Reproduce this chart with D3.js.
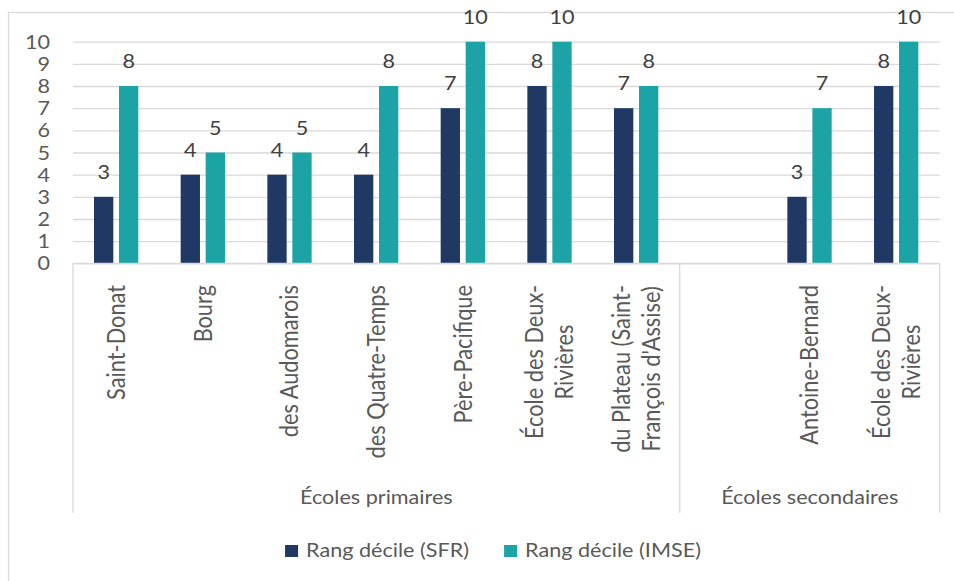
<!DOCTYPE html>
<html>
<head>
<meta charset="utf-8">
<script src="https://cdn.jsdelivr.net/npm/d3@7"></script>
<style>
  html, body { margin: 0; padding: 0; background: #fff; }
  svg { display: block; font-family: Lato, sans-serif; }
</style>
</head>
<body>
<svg id="chart" width="954" height="581"></svg>
<script>
// ---- data ----
const categories = [
  "Saint-Donat",
  "Bourg",
  "des Audomarois",
  "des Quatre-Temps",
  "Père-Pacifique",
  "École des Deux-Rivières",
  "du Plateau (Saint-François d'Assise)",
  "",
  "Antoine-Bernard",
  "École des Deux-Rivières"
];
const groupNames = ["Écoles primaires", "Écoles secondaires"];
const groupSizes = [7, 3];
const seriesNames = ["Rang décile (SFR)", "Rang décile (IMSE)"];
const sfrValues  = [3, 4, 4, 4, 7, 8, 7, null, 3, 8];
const imseValues = [8, 5, 5, 8, 10, 10, 8, null, 7, 10];
const yTicks = [0, 1, 2, 3, 4, 5, 6, 7, 8, 9, 10];
const seriesColors = ["#1F3864", "#1BA3A5"];

// ---- layout ----
const svg = d3.select("#chart");
const plotL = 73, plotR = 939.7, plotT = 41.7, plotB = 263.3;
const axisBottom = 513;
const textColor = "#595959";
const labelColor = "#404040";
const gridColor = "#D9D9D9";
const FS = 18.4, CAP = 0.72 * FS;

const measurer = svg.append("text").attr("visibility", "hidden");
function measure(t, fs) { measurer.style("font-size", fs + "px").text(t); return measurer.node().getComputedTextLength(); }
// horizontal text stretch (matches the reference's wide glyphs)
const SX = 163 / measure(seriesNames[0], FS);
// rotated category labels
const ROT_FS = 115 / measure(categories[0], 1);
const ROT_SY = 17.5 / (0.72 * ROT_FS);

// outer border
svg.append("rect")
  .attr("x", 8.5).attr("y", 12.5)
  .attr("width", 960).attr("height", 580)
  .attr("fill", "none").attr("stroke", gridColor).attr("stroke-width", 1.3);

const x = d3.scaleBand().domain(d3.range(categories.length)).range([plotL, plotR]).padding(0);
const x1 = d3.scaleBand().domain(seriesNames).range([21, 65.3]).paddingInner(0.228);
const y = d3.scaleLinear().domain([0, 10]).range([plotB, plotT]);

// y axis with gridlines
const yAxis = svg.append("g")
  .attr("transform", `translate(${plotL},0)`)
  .call(d3.axisLeft(y).tickValues(yTicks).tickFormat(d3.format("d"))
        .tickSize(-(plotR - plotL)).tickPadding(0));
yAxis.select(".domain").remove();
yAxis.selectAll(".tick line").attr("stroke", gridColor).attr("stroke-width", 1.3);
yAxis.selectAll(".tick text")
  .attr("x", 0).attr("dy", null).attr("y", CAP / 2)
  .attr("transform", `translate(-23,0) scale(${SX},1)`)
  .attr("text-anchor", "end")
  .attr("fill", textColor)
  .style("font-size", FS + "px")
  .style("font-family", "Lato, sans-serif");

// bars
const seriesValues = [sfrValues, imseValues];
seriesNames.forEach((s, si) => {
  const vals = seriesValues[si];
  const idx = d3.range(categories.length).filter(i => vals[i] != null);
  svg.append("g").selectAll("rect").data(idx).join("rect")
    .attr("x", i => x(i) + x1(s))
    .attr("width", x1.bandwidth())
    .attr("y", i => y(vals[i]))
    .attr("height", i => y(0) - y(vals[i]))
    .attr("fill", seriesColors[si]);
  svg.append("g").selectAll("text").data(idx).join("text")
    .attr("transform", i => `translate(${x(i) + x1(s) + x1.bandwidth() / 2},${y(vals[i]) - 17.7}) scale(${SX},1)`)
    .attr("text-anchor", "middle")
    .attr("fill", labelColor)
    .style("font-size", FS + "px")
    .text(i => vals[i]);
});

// category axis line
svg.append("line")
  .attr("x1", plotL).attr("x2", plotR).attr("y1", plotB).attr("y2", plotB)
  .attr("stroke", gridColor).attr("stroke-width", 1.3);

// group boundaries
const bounds = [0];
groupSizes.forEach((n, k) => bounds.push(bounds[k] + n));
svg.append("g").selectAll("line").data(bounds).join("line")
  .attr("x1", b => b < categories.length ? x(b) : plotR)
  .attr("x2", b => b < categories.length ? x(b) : plotR)
  .attr("y1", plotB).attr("y2", axisBottom)
  .attr("stroke", gridColor).attr("stroke-width", 1.3);

// rotated category labels (wrapped)
const catG = svg.append("g");
function wrap(label, maxW) {
  const tokens = label.match(/[^\s-]+[\s-]*/g) || [];
  const lines = [];
  let cur = "";
  tokens.forEach(tok => {
    const trial = cur + tok;
    if (cur && measure(trial.trimEnd(), ROT_FS) > maxW) { lines.push(cur.trimEnd()); cur = tok; }
    else cur = trial;
  });
  if (cur) lines.push(cur.trimEnd());
  return lines;
}
const labelTop = 285, lineStep = 30 / ROT_SY;
categories.forEach((c, i) => {
  if (!c) return;
  const lines = wrap(c, 200);
  const maxLen = d3.max(lines, l => measure(l, ROT_FS));
  const cx = x(i) + x.bandwidth() / 2;
  const g = catG.append("g")
    .attr("transform", `translate(${cx},${labelTop}) rotate(-90) scale(1,${ROT_SY})`);
  const capL = 0.72 * ROT_FS;
  lines.forEach((ln, k) => {
    g.append("text")
      .attr("x", -maxLen / 2)
      .attr("y", (k - (lines.length - 1) / 2) * lineStep + capL / 2)
      .attr("text-anchor", "middle")
      .attr("fill", textColor)
      .style("font-size", ROT_FS + "px")
      .text(ln);
  });
});
measurer.remove();

// group labels
groupNames.forEach((gname, k) => {
  const x0 = x(bounds[k]);
  const xe = bounds[k + 1] < categories.length ? x(bounds[k + 1]) : plotR;
  svg.append("text")
    .attr("transform", `translate(${(x0 + xe) / 2},504) scale(${SX},1)`)
    .attr("text-anchor", "middle")
    .attr("fill", textColor)
    .style("font-size", FS + "px")
    .text(gname);
});

// legend
const legend = svg.append("g");
const items = seriesNames.map((s, i) => {
  const g = legend.append("g");
  g.append("rect").attr("x", 0).attr("y", -11.7).attr("width", 13).attr("height", 12)
    .attr("fill", seriesColors[i]);
  const t = g.append("text")
    .attr("transform", `translate(21,0) scale(${SX},1)`)
    .attr("fill", textColor)
    .style("font-size", FS + "px")
    .text(s);
  const w = 21 + t.node().getComputedTextLength() * SX;
  return { g, w };
});
const itemGap = 35;
const totalW = d3.sum(items, d => d.w) + itemGap * (items.length - 1);
let lx = 493 - totalW / 2;
items.forEach(it => {
  it.g.attr("transform", `translate(${lx},556.7)`);
  lx += it.w + itemGap;
});
</script>
</body>
</html>
